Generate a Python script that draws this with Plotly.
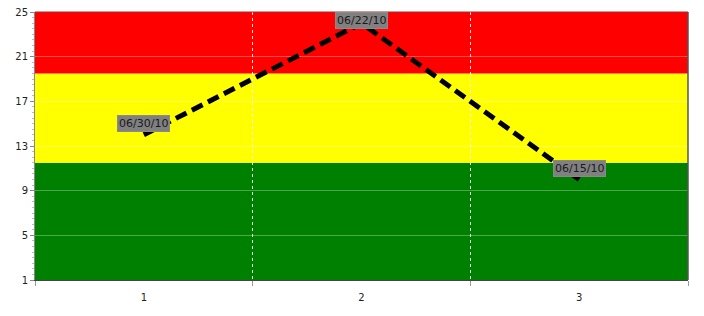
import plotly.graph_objects as go

categories = [1, 2, 3]
values = [14, 24, 10]
dates = ["06/30/10", "06/22/10", "06/15/10"]
y_ticks = [1, 5, 9, 13, 17, 21, 25]
band_bounds = [1, 11.5, 19.5, 25]
band_colors = ["#008000", "#ffff00", "#ff0000"]
y_range = [1, 25]

fig = go.Figure()
fig.add_trace(go.Scatter(
    x=categories, y=values, mode="lines",
    line=dict(color="black", width=5, dash="12px,6px"),
    hoverinfo="skip", showlegend=False,
))

for lo, hi, c in zip(band_bounds[:-1], band_bounds[1:], band_colors):
    fig.add_shape(type="rect", xref="paper", yref="y", x0=0, x1=1, y0=lo, y1=hi,
                  fillcolor=c, line=dict(width=0), layer="below")

for x, y, t in zip(categories, values, dates):
    common = dict(x=x, text=t, showarrow=False, bgcolor="#808080",
                  bordercolor="#8a8a8a", borderwidth=1, borderpad=1,
                  font=dict(family="DejaVu Sans", size=11, color="#1a1a1a"))
    if y > y_range[1] - 1.5:
        # label kept inside the plot area
        fig.add_annotation(y=1, yref="paper", yanchor="top", **common)
    else:
        fig.add_annotation(y=y, yanchor="bottom", yshift=3, **common)

fig.update_layout(
    width=704, height=316,
    margin=dict(l=35, r=16, t=12, b=36),
    paper_bgcolor="white", plot_bgcolor="white",
    font=dict(family="DejaVu Sans", size=10, color="#222222"),
    showlegend=False,
    xaxis=dict(range=[0.5, 3.5], tickvals=categories, ticklen=0, showgrid=False,
               automargin=False,
               zeroline=False, showline=True, linecolor="#444444", linewidth=1,
               mirror=False,
               minor=dict(tick0=0.5, dtick=1, ticks="outside", ticklen=5,
                          tickcolor="#999999", showgrid=True,
                          gridcolor="rgba(255,255,255,0.9)", griddash="dot",
                          gridwidth=1),
               ticklabelstandoff=8),
    yaxis=dict(range=y_range, tickvals=y_ticks, ticks="outside", ticklen=4,
               automargin=False,
               tickcolor="#888888", showgrid=True,
               gridcolor="rgba(255,255,255,0.3)", gridwidth=1, zeroline=False,
               showline=True, linecolor="#888888", linewidth=1,
               minor=dict(dtick=0.5, ticks="outside", ticklen=2,
                          tickcolor="#bbbbbb", showgrid=False)),
)
fig.add_shape(type="line", xref="paper", yref="paper", x0=1, x1=1, y0=0, y1=1,
              line=dict(color="#555555", width=1.5))
fig.add_shape(type="line", xref="paper", yref="paper", x0=0, x1=1, y0=1, y1=1,
              line=dict(color="#993333", width=1))

fig.write_html("out.html")
